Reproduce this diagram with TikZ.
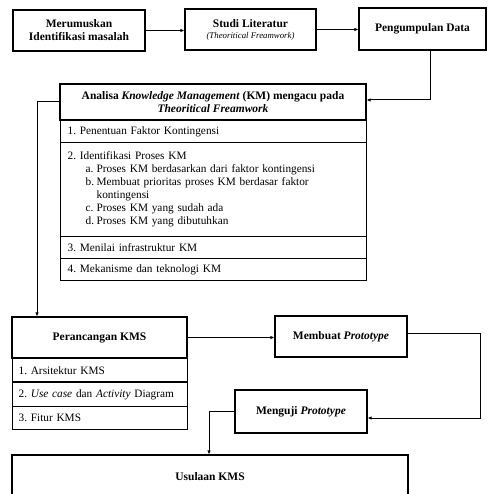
\documentclass[tikz,border=0pt]{standalone}
\usepackage{fontspec}
\setmainfont{Liberation Serif}
\usetikzlibrary{arrows.meta}
\frenchspacing
\tikzset{
  box/.style={draw, line width=1.2pt, inner sep=0pt, align=center, font=\fontsize{11.5}{13}\selectfont\bfseries},
  rowbox/.style={draw, line width=1.2pt, inner ysep=0pt, align=left, anchor=north west, font=\fontsize{11.3}{13}\selectfont},
  conn/.style={line width=1pt, -{Latex[length=4pt,width=3.5pt]}}
}
\newcommand{\itm}[1]{\hspace{18pt}\makebox[11pt][l]{#1}}
\begin{document}
\begin{tikzpicture}[x=1pt,y=-1pt]
\useasboundingbox (0,0) rectangle (487,494);
\clip (0,0) rectangle (487,494);
% top row
\node[box, minimum width=132, minimum height=41] (b1) at (79,30.5) {Merumuskan\\Identifikasi masalah};
\node[box, minimum width=131, minimum height=41] (b2) at (250.5,29.5) {Studi Literatur\\[-2pt]{\fontsize{8.8}{10}\selectfont\mdseries\itshape (Theoritical Freamwork)}};
\node[box, minimum width=127, minimum height=42] (b3) at (422.5,29) {Pengumpulan Data};
% analysis block
\node[box, minimum width=306, minimum height=36] (ana) at (213,102) {Analisa \textit{Knowledge Management} (KM) mengacu pada\\\textit{Theoritical Freamwork}};
\node[rowbox, text width=292, inner xsep=7, minimum height=22] (r1) at (60,120) {1. Penentuan Faktor Kontingensi};
\node[rowbox, text width=292, inner xsep=7, minimum height=94] (r2) at (60,142) {2. Identifikasi Proses KM\\
\itm{a.}Proses KM berdasarkan dari faktor kontingensi\\
\itm{b.}Membuat prioritas proses KM berdasar faktor\\
\hspace{29pt}kontingensi\\
\itm{c.}Proses KM yang sudah ada\\
\itm{d.}Proses KM yang dibutuhkan};
\node[rowbox, text width=292, inner xsep=7, minimum height=22] (r3) at (60,236) {3. Menilai infrastruktur KM};
\node[rowbox, text width=292, inner xsep=7, minimum height=22] (r4) at (60,258) {4. Mekanisme dan teknologi KM};
% perancangan block
\node[box, minimum width=175, minimum height=41] (pera) at (99.5,337.5) {Perancangan KMS};
\node[rowbox, text width=163, inner xsep=6, minimum height=24] (p1) at (12,358) {1. Arsitektur KMS};
\node[rowbox, text width=163, inner xsep=6, minimum height=24] (p2) at (12,382) {2. \textit{Use case} dan \textit{Activity} Diagram};
\node[rowbox, text width=163, inner xsep=6, minimum height=23] (p3) at (12,406) {3. Fitur KMS};
\draw[line width=2pt] (p2.north west) -- (p2.north east);
% prototype boxes
\node[box, minimum width=132, minimum height=41] (mem) at (341,336.5) {Membuat \textit{Prototype}};
\node[box, minimum width=132, minimum height=43] (ung) at (301,411.5) {Menguji \textit{Prototype}};
\node[box, minimum width=396, minimum height=44] (usul) at (210,477) {Usulaan KMS};
% coordinates
\coordinate (k0) at (430,100);
\coordinate (k1) at (37,102);
\coordinate (k2) at (480,333);
\coordinate (k3) at (480,418);
\coordinate (k4) at (209,411);
% connectors
\draw[conn] (b1.east) -- (b1.east -| b2.west);
\draw[conn] (b2.east) -- (b2.east -| b3.west);
\draw[conn] (k0 |- b3.south) -- (k0) -- (k0 -| ana.east);
\draw[conn] (ana.west |- k1) -- (k1) -- (k1 |- pera.north);
\draw[conn] (pera.east) -- (pera.east -| mem.west);
\draw[conn] (mem.east |- k2) -- (k2) -- (k3) -- (k3 -| ung.east);
\draw[conn] (ung.west |- k4) -- (k4) -- (k4 |- usul.north);
\end{tikzpicture}
\end{document}
